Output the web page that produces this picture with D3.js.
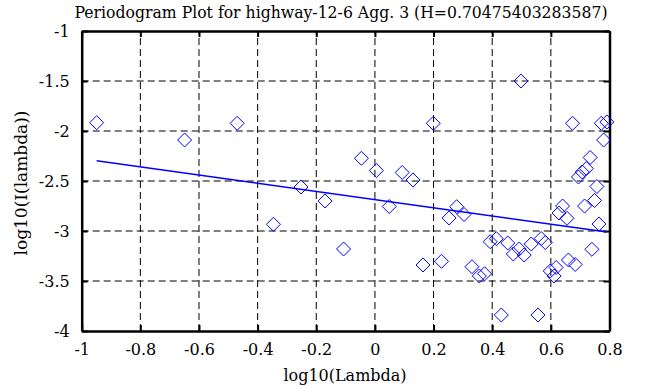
<!DOCTYPE html>
<html>
<head>
<meta charset="utf-8">
<script src="https://cdn.jsdelivr.net/npm/d3@7"></script>
<style>
  html, body { margin: 0; padding: 0; background: #fff; }
  svg { display: block; }
  svg text { font-family: "DejaVu Serif", serif !important; fill: #000; }
</style>
</head>
<body>
<div id="chart"></div>
<script>
// ---- data ----
const titleText = "Periodogram Plot for highway-12-6 Agg. 3 (H=0.70475403283587)";
const xLabel = "log10(Lambda)";
const yLabel = "log10(I(lambda))";
const xTicks = [-1, -0.8, -0.6, -0.4, -0.2, 0, 0.2, 0.4, 0.6, 0.8];
const yTicks = [-1, -1.5, -2, -2.5, -3, -3.5, -4];
const logLambda = [
  -0.949, -0.649, -0.470, -0.346, -0.252, -0.170, -0.107, -0.046, 0.005, 0.049,
   0.093,  0.130,  0.164,  0.199,  0.227,  0.253,  0.279,  0.304, 0.331, 0.356,
   0.374,  0.393,  0.414,  0.431,  0.453,  0.472,  0.492,  0.509, 0.533, 0.498,
   0.556,  0.567,  0.581,  0.598,  0.611,  0.618,  0.640,  0.628, 0.655, 0.660,
   0.683,  0.674,  0.694,  0.707,  0.721,  0.734,  0.715,  0.740, 0.757, 0.749,
   0.764,  0.772,  0.791,  0.780
];
const logI = [
  -1.917, -2.090, -1.923, -2.933, -2.560, -2.700, -3.180, -2.273, -2.395, -2.755,
  -2.415, -2.490, -3.340, -1.923, -3.303, -2.870, -2.757, -2.835, -3.357, -3.450,
  -3.428, -3.107, -3.077, -3.840, -3.120, -3.230, -3.180, -3.240, -3.130, -1.500,
  -3.840, -3.075, -3.115, -3.400, -3.450, -3.365, -2.750, -2.820, -2.873, -3.290,
  -3.335, -1.923, -2.460, -2.410, -2.375, -2.265, -2.750, -3.183, -2.555, -2.695,
  -2.930, -1.923, -1.910, -2.090
];
const fitX = [-0.949, 0.791];
const fitY = [-2.297, -3.010];

// ---- layout ----
const W = 658, H = 387;
const m = { left: 81.7, right: 48.5, top: 31, bottom: 56 };
const serif = "'DejaVu Serif', serif";

const svg = d3.select("#chart").append("svg")
  .attr("width", W).attr("height", H);
svg.append("rect").attr("width", W).attr("height", H).attr("fill", "#fff");

const x = d3.scaleLinear().domain([-1, 0.8]).range([m.left, W - m.right]);
const y = d3.scaleLinear().domain([-4, -1]).range([H - m.bottom, m.top]);

const x0 = x.range()[0], x1 = x.range()[1];
const y0 = y.range()[0], y1 = y.range()[1];

// grid (dashed)
const grid = svg.append("g");
grid.selectAll("line.vg").data(xTicks.slice(1, -1)).join("line")
  .attr("x1", d => x(d)).attr("x2", d => x(d))
  .attr("y1", y0).attr("y2", y1)
  .attr("stroke", "#000").attr("stroke-width", 1).attr("stroke-dasharray", "7,4");
grid.selectAll("line.hg").data(yTicks.slice(1, -1)).join("line")
  .attr("y1", d => y(d)).attr("y2", d => y(d))
  .attr("x1", x0).attr("x2", x1)
  .attr("stroke", "#000").attr("stroke-width", 1).attr("stroke-dasharray", "7,4");

// axes
const fs = "16px";
const fmt = d => String(d);
const xAxis = svg.append("g").attr("transform", `translate(0,${y0})`)
  .call(d3.axisBottom(x).tickValues(xTicks).tickSizeInner(-6).tickSizeOuter(0).tickPadding(13).tickFormat(fmt));
const yAxis = svg.append("g").attr("transform", `translate(${x0},0)`)
  .call(d3.axisLeft(y).tickValues(yTicks).tickSizeInner(-6).tickSizeOuter(0).tickPadding(12).tickFormat(fmt));
const xTop = svg.append("g").attr("transform", `translate(0,${y1})`)
  .call(d3.axisTop(x).tickValues(xTicks).tickSizeInner(-6).tickSizeOuter(0).tickFormat(""));
const yRight = svg.append("g").attr("transform", `translate(${x1},0)`)
  .call(d3.axisRight(y).tickValues(yTicks).tickSizeInner(-6).tickSizeOuter(0).tickFormat(""));

[xAxis, yAxis, xTop, yRight].forEach(g => {
  g.attr("font-family", serif).attr("font-size", fs);
  g.selectAll(".domain").attr("stroke", "#000").attr("stroke-width", 2.5);
  g.selectAll(".tick line").attr("stroke", "#000").attr("stroke-width", 2);
  g.selectAll("text").attr("fill", "#000");
});

// fit line
svg.append("path")
  .datum(d3.zip(fitX, fitY))
  .attr("d", d3.line().x(d => x(d[0])).y(d => y(d[1])))
  .attr("fill", "none").attr("stroke", "#0000ff").attr("stroke-width", 1.5);

// diamonds
const pts = d3.zip(logLambda, logI);
svg.append("g").selectAll("path").data(pts).join("path")
  .attr("transform", d => `translate(${x(d[0])},${y(d[1])})`)
  .attr("d", "M0,-7L7,0L0,7L-7,0Z")
  .attr("fill", "none").attr("stroke", "#0000ff").attr("stroke-width", 1);

// title and axis labels
svg.append("text").attr("x", 341).attr("y", 18).attr("text-anchor", "middle")
  .attr("font-family", serif).attr("font-size", "17px")
  .attr("textLength", 533).attr("lengthAdjust", "spacingAndGlyphs")
  .text(titleText);
svg.append("text").attr("x", 345).attr("y", 381).attr("text-anchor", "middle")
  .attr("font-family", serif).attr("font-size", fs).text(xLabel);
svg.append("text").attr("transform", `translate(27,${(y0 + y1) / 2 + 2}) rotate(-90)`)
  .attr("text-anchor", "middle").attr("font-family", serif).attr("font-size", fs)
  .attr("textLength", 145).attr("lengthAdjust", "spacingAndGlyphs")
  .text(yLabel);
</script>
</body>
</html>
